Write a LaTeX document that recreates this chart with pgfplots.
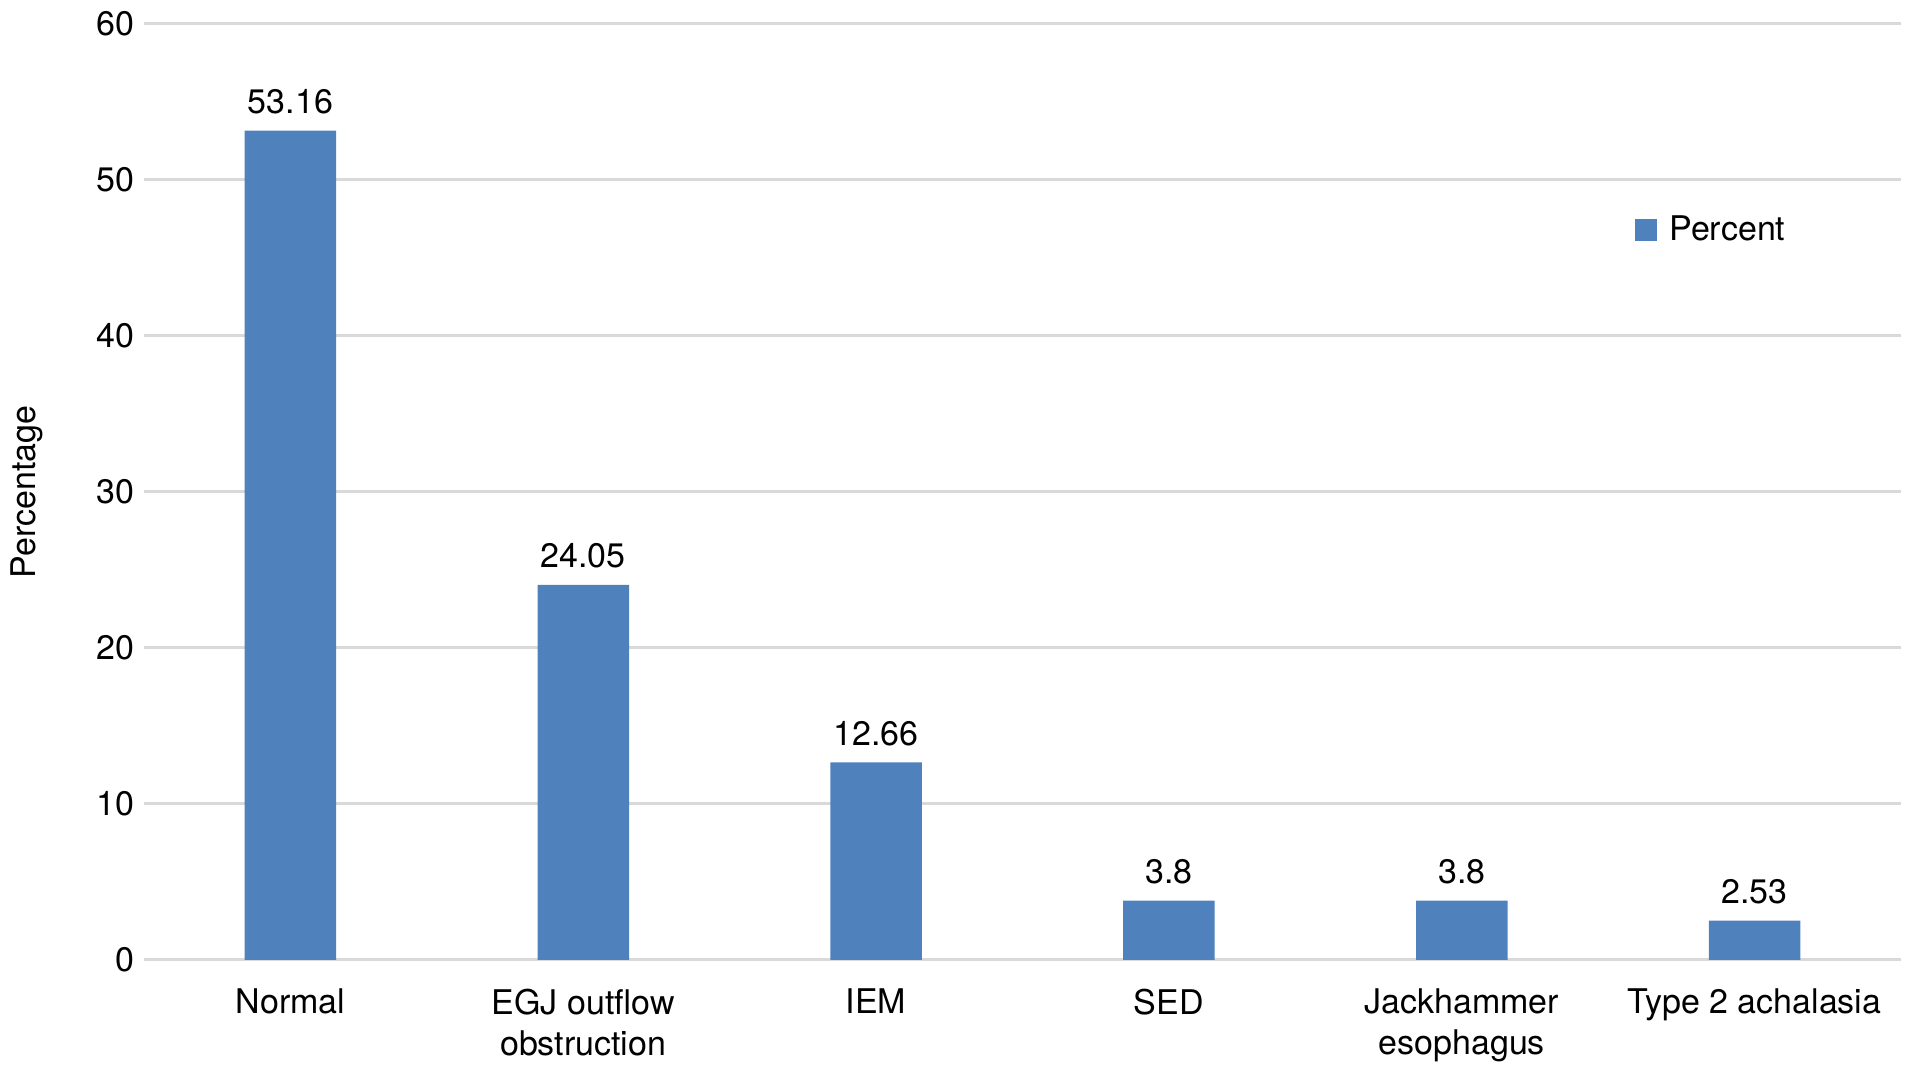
\documentclass[border=0pt]{standalone}
\usepackage{pgfplots}
\pgfplotsset{compat=1.18}
\usepackage{fontspec}
\setmainfont{TeX Gyre Heros}
\definecolor{barblue}{HTML}{4F81BD}
\definecolor{gridgray}{HTML}{D9D9D9}
\begin{document}
\begin{tikzpicture}
\useasboundingbox (0,0) rectangle (956.5pt,538pt);
\begin{axis}[
  at={(72pt,58pt)}, anchor=south west,
  scale only axis, width=878.5pt, height=468pt,
  xmin=-0.5, xmax=5.5, ymin=0, ymax=60,
  xtick={0,1,2,3,4,5},
  xticklabels={Normal,{EGJ outflow\\obstruction},IEM,SED,{Jackhammer\\esophagus},Type 2 achalasia},
  ytick={0,10,20,30,40,50,60},
  ymajorgrids, major grid style={draw=gridgray, line width=1.5pt},
  axis line style={draw=none}, major tick length=0pt,
  /pgf/number format/assume math mode=true,
  ticklabel style={font=\fontsize{17}{20.5}\selectfont},
  xticklabel style={align=center, anchor=north, yshift=-11pt},
  yticklabel style={xshift=-1.5pt},
  ylabel={Percentage},
  ylabel style={at={(axis description cs:-0.0666,0.5)}, anchor=center, font=\fontsize{17}{20}\selectfont},
  ybar, bar width=45.75pt,
  nodes near coords={\pgfmathprintnumber[fixed,precision=2]{\pgfplotspointmeta}},
  every node near coord/.append style={font=\fontsize{17}{20}\selectfont, anchor=south, inner sep=0pt, yshift=8pt, text=black},
  legend entries={Percent},
  legend style={draw=none, fill=none, at={(rel axis cs:0.8486,0.78)}, anchor=west, inner sep=0pt, font=\fontsize{17}{20}\selectfont},
  legend image code/.code={\fill[#1] (0pt,-5.5pt) rectangle (11pt,5.5pt);},
  legend style={nodes={inner xsep=6pt}},
]
\addplot[fill=barblue, draw=none] coordinates {(0,53.16) (1,24.05) (2,12.66) (3,3.8) (4,3.8) (5,2.53)};
\end{axis}
\end{tikzpicture}
\end{document}
